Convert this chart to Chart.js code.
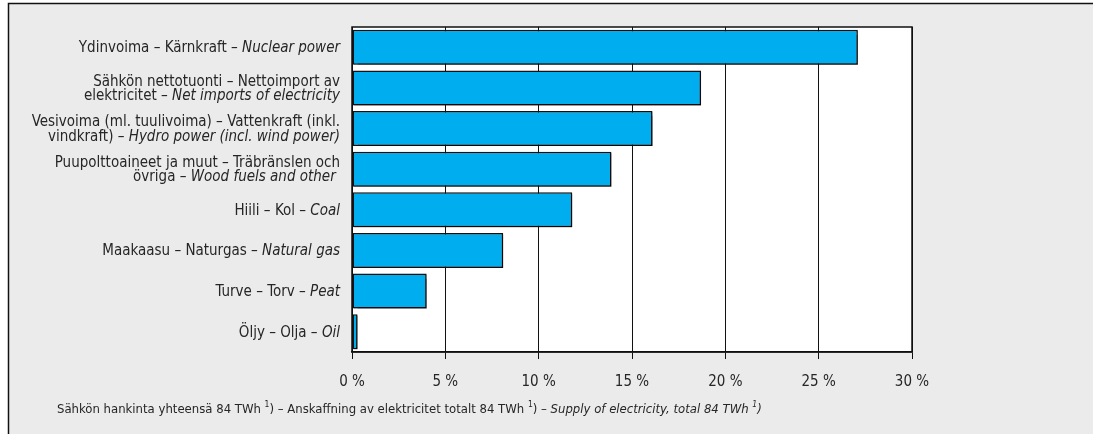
<!DOCTYPE html>
<html lang="fi">
<head>
    <meta charset="UTF-8">
    <title>Sähkön hankinta energialähteittäin</title>
    <script src="https://cdn.jsdelivr.net/npm/chart.js"></script>
    <style>
        body {
            margin: 0;
            padding: 0;
            background-color: #fff;
        }
        canvas {
            display: block;
        }
    </style>
</head>
<body>

    <canvas id="myChart" width="1093" height="434"></canvas>

    <script>
        // Category labels: each line is [plain part, italic part]
        const categories = [
            [['Ydinvoima – Kärnkraft – ', 'Nuclear power']],
            [['Sähkön nettotuonti – Nettoimport av', ''], ['elektricitet – ', 'Net imports of electricity']],
            [['Vesivoima (ml. tuulivoima) – Vattenkraft (inkl.', ''], ['vindkraft) – ', 'Hydro power (incl. wind power)']],
            [['Puupolttoaineet ja muut – Träbränslen och', ''], ['övriga – ', 'Wood fuels and other ']],
            [['Hiili – Kol – ', 'Coal']],
            [['Maakaasu – Naturgas – ', 'Natural gas']],
            [['Turve – Torv – ', 'Peat']],
            [['Öljy – Olja – ', 'Oil']]
        ];

        // Share of electricity supply, %
        const shares = [27.1, 18.7, 16.1, 13.9, 11.8, 8.1, 4.0, 0.3];

        // x axis ticks, %
        const xTicks = [0, 5, 10, 15, 20, 25, 30];

        // Footnote: [text, italic, superscript]
        const footnote = [
            ['Sähkön hankinta yhteensä 84 TWh ', false, false], ['1', false, true], [') – Anskaffning av elektricitet totalt 84 TWh ', false, false],
            ['1', false, true], [') – ', false, false], ['Supply of electricity, total 84 TWh ', true, false], ['1', true, true], [')', true, false]
        ];

        var FONT = "'Liberation Sans Narrow', 'DejaVu Sans Condensed', 'Arial Narrow', sans-serif";
        var TEXT = '#262626';

        function fontStr(size, italic) {
            return (italic ? 'italic ' : '') + size + 'px ' + FONT;
        }

        // frame, grey background and white plot area
        var backgroundPlugin = {
            id: 'background',
            beforeDraw(chart) {
                var ctx = chart.ctx, a = chart.chartArea;
                ctx.save();
                ctx.fillStyle = '#fff';
                ctx.fillRect(0, 0, chart.width, chart.height);
                ctx.fillStyle = '#ebebeb';
                ctx.fillRect(8, 3, chart.width - 8, chart.height - 3);
                ctx.strokeStyle = '#111';
                ctx.lineWidth = 1.5;
                ctx.beginPath();
                ctx.moveTo(chart.width, 3.5);
                ctx.lineTo(8.5, 3.5);
                ctx.lineTo(8.5, chart.height);
                ctx.stroke();
                ctx.fillStyle = '#fff';
                ctx.fillRect(a.left, a.top, a.right - a.left, a.bottom - a.top);
                ctx.restore();
            }
        };

        // slight shadow under the bars, then the plot border on top
        var barShadowPlugin = {
            id: 'barShadow',
            beforeDatasetsDraw(chart) {
                var ctx = chart.ctx;
                ctx.save();
                ctx.shadowColor = 'rgba(0, 0, 0, 0.45)';
                ctx.shadowOffsetX = 1.5;
                ctx.shadowOffsetY = 1.5;
                ctx.shadowBlur = 1;
            },
            afterDatasetsDraw(chart) {
                var ctx = chart.ctx, a = chart.chartArea;
                ctx.restore();
                ctx.save();
                ctx.strokeStyle = '#111';
                ctx.lineWidth = 1.5;
                ctx.strokeRect(a.left, a.top, a.right - a.left, a.bottom - a.top);
                ctx.restore();
            }
        };

        // category labels with italic English part, and the footnote
        var labelPlugin = {
            id: 'mixedLabels',
            afterDraw(chart) {
                var ctx = chart.ctx, a = chart.chartArea;
                var yScale = chart.scales.y;
                var size = 15, lineH = 14.5;
                var right = a.left - 12;
                ctx.save();
                ctx.fillStyle = TEXT;
                ctx.textBaseline = 'middle';
                ctx.textAlign = 'left';
                categories.forEach(function (lines, i) {
                    var yc = yScale.getPixelForValue(i) + 1;
                    var y0 = yc - (lines.length - 1) * lineH / 2;
                    lines.forEach(function (parts, j) {
                        ctx.font = fontStr(size, false);
                        var w1 = ctx.measureText(parts[0]).width;
                        ctx.font = fontStr(size, true);
                        var w2 = ctx.measureText(parts[1]).width;
                        var x = right - w1 - w2;
                        var y = y0 + j * lineH;
                        ctx.font = fontStr(size, false);
                        ctx.fillText(parts[0], x, y);
                        ctx.font = fontStr(size, true);
                        ctx.fillText(parts[1], x + w1, y);
                    });
                });

                // footnote
                var fx = 57, fy = 410, fsize = 13;
                footnote.forEach(function (seg) {
                    var s = seg[2] ? 8.5 : fsize;
                    ctx.font = fontStr(s, seg[1]);
                    ctx.fillText(seg[0], fx, seg[2] ? fy - 5 : fy);
                    fx += ctx.measureText(seg[0]).width;
                });
                ctx.restore();
            }
        };

        var ctx = document.getElementById('myChart').getContext('2d');

        var myChart = new Chart(ctx, {
            type: 'bar',
            data: {
                labels: categories.map(l => l.map(p => p[0] + p[1]).join(' ')),
                datasets: [{
                    data: shares,
                    backgroundColor: '#00adee',
                    borderColor: '#111',
                    borderWidth: 1.5,
                    borderSkipped: false,
                    categoryPercentage: 0.86,
                    barPercentage: 1.0
                }]
            },
            options: {
                indexAxis: 'y',
                responsive: false,
                animation: false,
                layout: {
                    padding: { left: 352, top: 27, right: 181, bottom: 29 }
                },
                scales: {
                    x: {
                        min: xTicks[0],
                        max: xTicks[xTicks.length - 1],
                        afterBuildTicks: function (scale) {
                            scale.ticks = xTicks.map(v => ({ value: v }));
                        },
                        grid: {
                            color: '#111',
                            lineWidth: 1,
                            tickLength: 7,
                            drawOnChartArea: true
                        },
                        border: { display: true, color: '#111', width: 1.5 },
                        ticks: {
                            color: TEXT,
                            padding: 14,
                            maxRotation: 0,
                            font: { family: FONT, size: 15 },
                            callback: v => v + ' %'
                        }
                    },
                    y: {
                        display: false
                    }
                },
                plugins: {
                    legend: { display: false },
                    tooltip: { enabled: false }
                }
            },
            plugins: [backgroundPlugin, barShadowPlugin, labelPlugin]
        });
    </script>
</body>
</html>
